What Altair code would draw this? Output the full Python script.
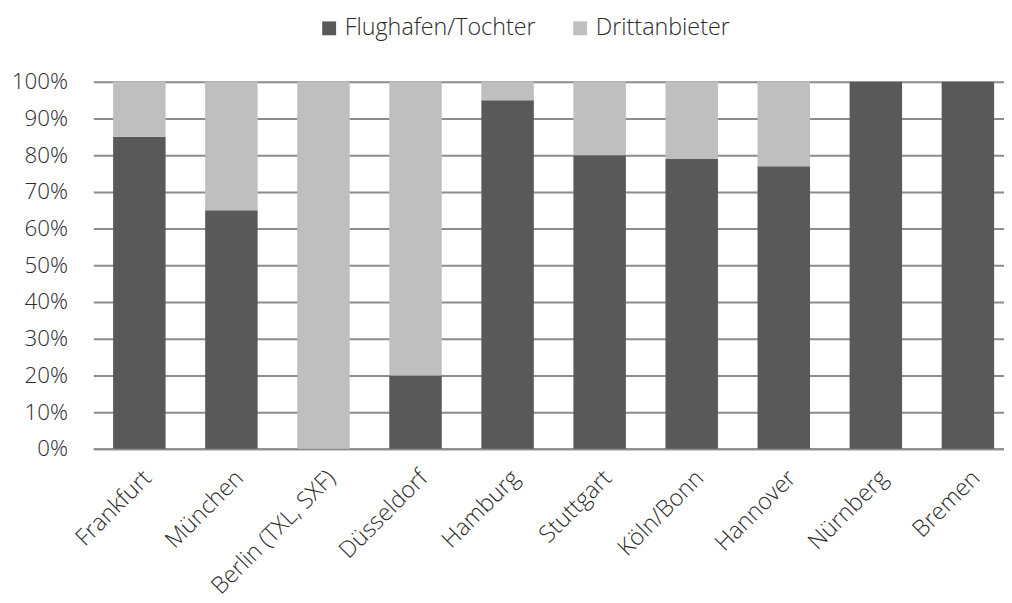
import altair as alt
import pandas as pd

cities = ["Frankfurt", "München", "Berlin (TXL, SXF)", "Düsseldorf", "Hamburg",
          "Stuttgart", "Köln/Bonn", "Hannover", "Nürnberg", "Bremen"]
flughafen = [85, 65, 0, 20, 95, 80, 79, 77, 100, 100]
dritt = [15, 35, 100, 80, 5, 20, 21, 23, 0, 0]
series = ["Flughafen/Tochter", "Drittanbieter"]
colors = ["#595959", "#bfbfbf"]
yticks = [0, 10, 20, 30, 40, 50, 60, 70, 80, 90, 100]

rows = []
for c, f, d in zip(cities, flughafen, dritt):
    rows.append({"city": c, "series": series[0], "value": f, "ord": 0})
    rows.append({"city": c, "series": series[1], "value": d, "ord": 1})
df = pd.DataFrame(rows)

FONT = "Open Sans"
TXT = "#2b2b2b"

chart = alt.Chart(df).mark_bar().encode(
    x=alt.X("city:N", sort=cities, title=None,
            scale=alt.Scale(range=[0, 928], paddingInner=0.43, paddingOuter=0.215),
            axis=alt.Axis(labelAngle=315, labelAlign="right", labelBaseline="top",
                          labelFontSize=23.5, labelFont=FONT, labelColor=TXT,
                          labelFontWeight=300, labelPadding=17, labelLimit=400,
                          ticks=False, domain=True, domainColor="#8c8c8c",
                          domainWidth=2, grid=False)),
    y=alt.Y("value:Q", stack="zero", title=None,
            scale=alt.Scale(domain=[0, 100], nice=False),
            axis=alt.Axis(values=yticks, labelExpr="datum.value + '%'",
                          labelFontSize=22.5, labelFont=FONT, labelColor=TXT,
                          labelFontWeight=300, labelPadding=26,
                          ticks=False, domain=False, grid=True,
                          gridColor="#8c8c8c", gridWidth=2)),
    color=alt.Color("series:N",
                    scale=alt.Scale(domain=series, range=colors),
                    legend=alt.Legend(title=None, orient="none", direction="horizontal",
                                      legendX=226, legendY=-66,
                                      symbolType="square", symbolSize=196,
                                      symbolStrokeWidth=0,
                                      labelFontSize=23.5, labelFont=FONT, labelColor=TXT,
                                      labelFontWeight=300, columnPadding=33,
                                      labelOffset=4, labelLimit=400, padding=0)),
    order=alt.Order("ord:Q"),
).properties(
    width=918, height=370,
    autosize=alt.AutoSizeParams(type="none"),
    padding={"left": 86, "top": 72, "right": 0, "bottom": 153},
).configure_view(stroke=None)

chart.save("out.html", embed_options={"renderer": "svg", "actions": False})
